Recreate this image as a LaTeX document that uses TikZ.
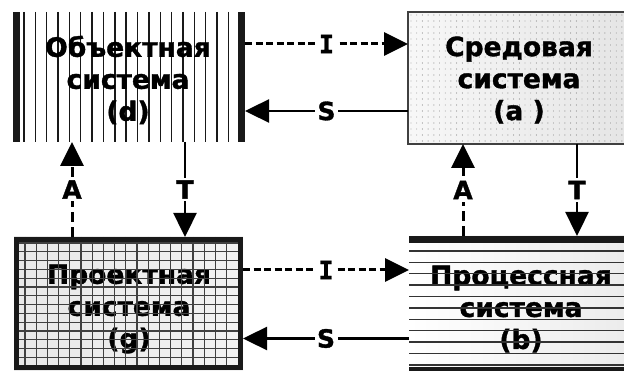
\documentclass[tikz,border=0pt]{standalone}
\usepackage{fontspec}
\setmainfont{DejaVu Sans}
\newfontfamily\heavy{DejaVu Sans Bold}[FakeBold=1.3]
\newfontfamily\monoheavy{DejaVu Sans Mono Bold}[FakeBold=1.3]
\usetikzlibrary{arrows.meta}
\begin{document}
\begin{tikzpicture}[x=1pt,y=-1pt,
  boxn/.style={inner sep=0pt, outer sep=0pt, draw=none},
  title/.style={align=center, font=\heavy\fontsize{26.5}{32}\selectfont, inner sep=0pt},
  lab/.style={fill=white, inner sep=2.5pt, font=\heavy\fontsize{25}{28}\selectfont},
  vstripe/.style={line width=1.4pt, black!90},
  gridln/.style={line width=1.2pt, black!75},
  hstripe/.style={line width=1.4pt, black!80},
  tip/.style={-{Triangle[length=24pt,width=23pt]}},
  dasharr/.style={tip, line width=3pt, dash pattern=on 7pt off 3.5pt},
  vdasharr/.style={tip, line width=3pt, dash pattern=on 10pt off 5pt},
  solarr/.style={tip, line width=2.4pt}
]
\useasboundingbox (0,0) rectangle (624,371);
\fill[white] (0,0) rectangle (624,371);

% ---- d: Объектная система (vertical stripes)
\node[boxn, minimum width=232pt, minimum height=130pt] (d) at (129,77) {};
\foreach \i in {0,...,18} \draw[vstripe] ({24+11.35*\i},12) -- ({24+11.35*\i},142);
\fill[black!90] (13,12) rectangle (20,142);
\fill[black!90] (237.5,12) rectangle (245,142);
\node[title] (dt) at (128,80) {Объектная\\система\\(d)};

% ---- a: Средовая система (dotted)
\shade[left color=gray!6, middle color=white, right color=gray!20] (408,12) rectangle (624,144);
\foreach \i in {0,...,37} \foreach \j in {0,...,21} \fill[black!70] ({411+5.7*\i},{15+6*\j}) circle (0.45pt);
\draw[line width=1.3pt, black!75] (624,12) -- (408,12) -- (408,144) -- (624,144);
\node[boxn, minimum width=216pt, minimum height=132pt] (a) at (516,78) {};
\node[title] (at) at (519,80) {Средовая\\система\\(a )};

% ---- g: Проектная система (grid)
\shade[left color=gray!18, middle color=white, right color=gray!10] (14,237) rectangle (243,370);
\node[title] (gt) at (129,309) {Проектная\\система\\(g)};
\foreach \i in {0,...,18} \draw[gridln] ({25+11.2*\i},237) -- ({25+11.2*\i},370);
\foreach \j in {0,...,14} \draw[gridln] (14,{243+8.8*\j}) -- (243,{243+8.8*\j});
\draw[line width=5pt, black!90] (16.5,239.5) rectangle (240.5,367.5);
\node[boxn, minimum width=229pt, minimum height=133pt] (g) at (128.5,303.5) {};

% ---- b: Процессная система (horizontal stripes)
\shade[left color=white, right color=gray!15] (409,236) rectangle (624,371);
\node[title] (bt) at (521,309) {Процессная\\система\\(b)};
\foreach \j in {0,...,10} \draw[hstripe] (409,{251+11.4*\j}) -- (624,{251+11.4*\j});
\fill[black!90] (409,236) rectangle (624,243);
\fill[black!90] (409,367) rectangle (624,371);
\node[boxn, minimum width=215pt, minimum height=135pt] (b) at (516.5,303.5) {};

% ---- connectors
\draw[dasharr] ([yshift=33pt]d.east) -- ([yshift=33pt]d.east -| a.west)
  node[lab, midway] (l1) {\monoheavy I};
\draw[solarr] ([yshift=-34pt]d.east -| a.west) -- ([yshift=-34pt]d.east)
  node[lab, midway] (l2) {S};
\draw[dasharr] ([yshift=33.5pt]g.east) -- ([yshift=33.5pt]g.east -| b.west)
  node[lab, midway] (l3) {\monoheavy I};
\draw[solarr] ([yshift=-35pt]g.east -| b.west) -- ([yshift=-35pt]g.east)
  node[lab, midway] (l4) {S};

\draw[vdasharr] ([xshift=-56.5pt]g.north) -- ([xshift=-56.5pt]g.north |- d.south)
  node[lab, midway] (l5) {A};
\draw[solarr] ([xshift=56.5pt]g.north |- d.south) -- ([xshift=56.5pt]g.north)
  node[lab, midway] (l6) {T};
\draw[vdasharr] ([xshift=-53.5pt]b.north) -- ([xshift=-53.5pt]b.north |- a.south)
  node[lab, midway] (l7) {A};
\draw[solarr] ([xshift=60.5pt]b.north |- a.south) -- ([xshift=60.5pt]b.north)
  node[lab, midway] (l8) {T};
\end{tikzpicture}
\end{document}
